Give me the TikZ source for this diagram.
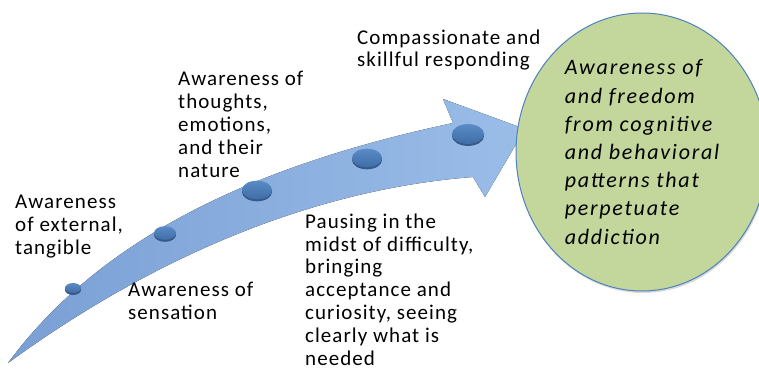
\documentclass[tikz,border=0pt]{standalone}
\usepackage{fontspec}
\setmainfont{Carlito}[LetterSpace=5]
\usetikzlibrary{shapes.geometric,shadows}
\definecolor{arrowlight}{HTML}{9ABDE8}
\definecolor{arrowdark}{HTML}{7A9FD4}
\definecolor{pebbletop}{HTML}{5A8BC6}
\definecolor{pebblebot}{HTML}{3F6DA6}
\definecolor{pebblerim}{HTML}{35598A}
\definecolor{goalfill}{HTML}{C3D69B}
\definecolor{goalline}{HTML}{4F81BD}
\tikzset{
  stage/.style={align=left,anchor=base west,inner sep=0pt,font=\fontsize{21}{22.8}\selectfont},
  pebble/.style={ellipse,inner sep=0pt,minimum width=#1,minimum height=0.62*#1,top color=pebbletop,bottom color=pebblebot,
    drop shadow={shadow xshift=0pt,shadow yshift=-2pt,fill=pebblerim,opacity=1}},
}
\begin{document}
\begin{tikzpicture}[x=1pt,y=-1pt]
        \useasboundingbox (0,0) rectangle (759,374);
        \coordinate(tail)at(8,363);\coordinate(neckT)at(453,123);\coordinate(neckB)at(473,177);
        \coordinate(barbT)at(443,99);\coordinate(tip)at(525,129);\coordinate(barbB)at(485,197);
        \fill[left color=arrowdark,right color=arrowlight] (tail) .. controls (110,225) and (280,160) .. (neckT)
          -- (barbT) -- (tip) -- (barbB) -- (neckB) .. controls (330,188) and (170,245) .. (tail) -- cycle;
        \node[pebble=16pt] (p1) at (73,288) {};
        \node[pebble=22pt] (p2) at (165,233) {};
        \node[pebble=30pt] (p3) at (257,190) {};
        \node[pebble=30pt] (p4) at (367,158) {};
        \node[pebble=32pt] (p5) at (468,134) {};
        \node[ellipse,draw=goalline,line width=1pt,fill=goalfill,minimum width=252pt,minimum height=278pt,inner sep=0pt,
          drop shadow={shadow xshift=1pt,shadow yshift=-2pt,fill=black,opacity=0.15},
          align=left,font=\fontsize{22}{28.2}\itshape\addfontfeatures{LetterSpace=8}\selectfont] (goal) at (642,152)
          {Awareness of\\and freedom\\from cognitive\\and behavioral\\patterns that\\perpetuate\\addiction};
        \node[stage] (outer) at (15,254) {Awareness\\of external,\\tangible};
        \node[stage] (body) at (128,319) {Awareness of\\sensation};
        \node[stage] (mind) at (178,177) {Awareness of\\thoughts,\\emotions,\\and their\\nature};
        \node[stage] (pause) at (305,365) {Pausing in the\\midst of difficulty,\\bringing\\acceptance and\\curiosity, seeing\\clearly what is\\needed};
        \node[stage] (respond) at (357,67) {Compassionate and\\skillful responding};
        \end{tikzpicture}
\end{document}
